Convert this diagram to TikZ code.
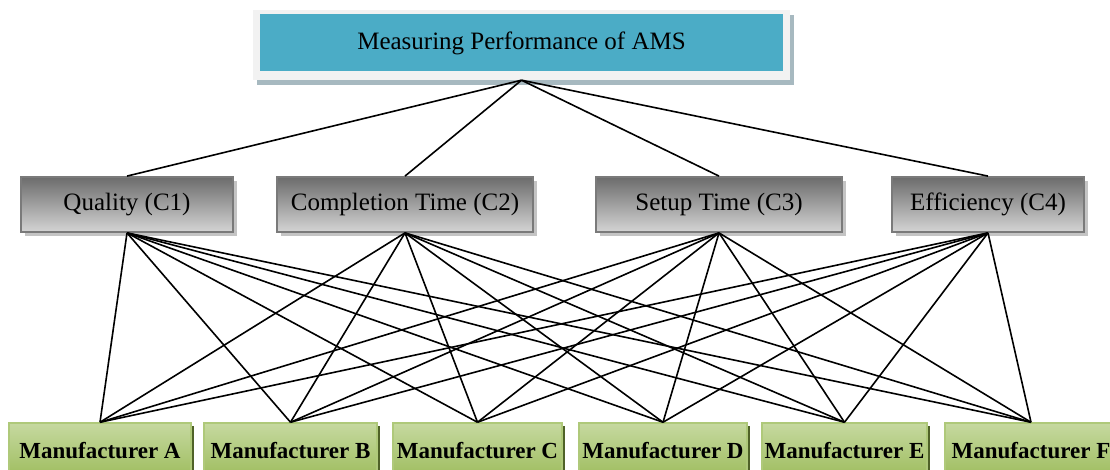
\documentclass[tikz,border=0pt]{standalone}
\usepackage{fontspec}
\setmainfont{Liberation Serif}
\usetikzlibrary{shadows}
\definecolor{aqua}{HTML}{4BACC6}
\definecolor{outerpale}{HTML}{F2F2F2}
\definecolor{topshadow}{HTML}{A7B9C0}
\definecolor{critborder}{HTML}{7A7A7A}
\definecolor{critdark}{HTML}{6C6C6C}
\definecolor{critlight}{HTML}{D4D4D4}
\definecolor{critshadow}{HTML}{C4C4C4}
\definecolor{greentop}{HTML}{C6D9A0}
\definecolor{greenbot}{HTML}{9DBC5C}
\definecolor{greenborder}{HTML}{AFC97A}
\definecolor{greenshadow}{HTML}{4F6228}
\tikzset{
  critbox/.style={draw=critborder, line width=1.8pt, top color=critdark, bottom color=critlight,
    minimum height=55pt, inner sep=0pt, font=\fontsize{25}{30}\selectfont,
    drop shadow={shadow xshift=4pt, shadow yshift=-4pt, fill=critshadow, opacity=1}},
  manbox/.style={draw=greenborder, line width=1.5pt, top color=greentop, bottom color=greenbot,
    minimum height=56pt, inner sep=0pt, font=\fontsize{23}{28}\selectfont\bfseries,
    drop shadow={shadow xshift=3pt, shadow yshift=-3pt, fill=greenshadow, opacity=1}},
  link/.style={line width=1.6pt, black},
}
\begin{document}
\begin{tikzpicture}[x=1pt,y=-1pt]
\useasboundingbox (0,0) rectangle (1110,470);
\clip (0,0) rectangle (1110,470);
% goal
\node[fill=outerpale, minimum width=537pt, minimum height=70pt, inner sep=0pt,
  drop shadow={shadow xshift=4pt, shadow yshift=-5pt, fill=topshadow, opacity=1}] (goal) at (521.5,45) {};
\node[fill=aqua, minimum width=523pt, minimum height=57pt, inner sep=0pt,
  font=\fontsize{25}{30}\selectfont] (goaltext) at (521.5,43) {Measuring Performance of AMS};
% criteria
\node[critbox, minimum width=212pt] (c1) at (127,204.5) {\raisebox{-2pt}{Quality (C1)}};
\node[critbox, minimum width=256pt] (c2) at (405,204.5) {\raisebox{-2pt}{Completion Time (C2)}};
\node[critbox, minimum width=246pt] (c3) at (719,204.5) {\raisebox{-2pt}{Setup Time (C3)}};
\node[critbox, minimum width=192pt] (c4) at (988,204.5) {\raisebox{-2pt}{Efficiency (C4)}};
% manufacturers
\node[manbox, minimum width=182pt] (ma) at (100,451) {Manufacturer A};
\node[manbox, minimum width=173pt] (mb) at (290.5,451) {Manufacturer B};
\node[manbox, minimum width=169pt] (mc) at (477.5,451) {Manufacturer C};
\node[manbox, minimum width=168pt] (md) at (663,451) {Manufacturer D};
\node[manbox, minimum width=165pt] (me) at (844.5,451) {Manufacturer E};
\node[manbox, minimum width=172pt] (mf) at (1031,451) {Manufacturer F};
% links
\foreach \c in {c1,c2,c3,c4}{
  \draw[link] (goal.south) -- (\c.north);
  \foreach \m in {ma,mb,mc,md,me,mf}{
    \draw[link] (\c.south) -- (\m.north);
  }
}
\end{tikzpicture}
\end{document}
